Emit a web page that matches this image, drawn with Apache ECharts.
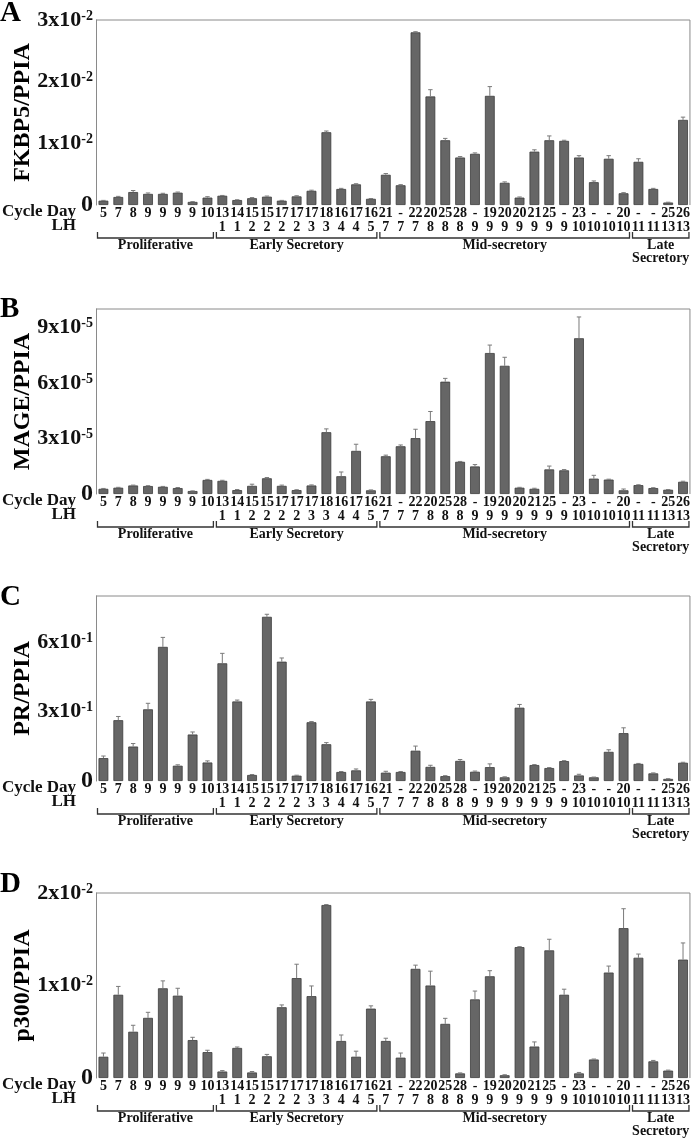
<!DOCTYPE html>
<html><head><meta charset="utf-8">
<script src="https://cdn.jsdelivr.net/npm/echarts@6/dist/echarts.min.js"></script>
<style>html,body{margin:0;padding:0;background:#fff}#c{width:693px;height:1139px}</style>
</head><body><div id="c"></div>
<script>
// ---- categories ----
const cycleDay = ['5','7','8','9','9','9','9','10','13','14','15','15','17','17','17','18','16','17','16','21','-','22','20','25','28','-','19','20','20','21','25','-','23','-','-','20','-','-','25','26'];
const lhDay = ['','','','','','','','','1','1','2','2','2','2','3','3','4','4','5','7','7','7','8','8','8','9','9','9','9','9','9','9','10','10','10','10','11','11','13','13'];
const groupNames = ['Proliferative','Early Secretory','Mid-secretory','Late\nSecretory'];
const groupSizes = [8, 11, 17, 4];

// ---- values (in units of the axis exponent) ----
// FKBP5/PPIA, x10^-2
const fkbp5 = [0.07,0.13,0.21,0.18,0.18,0.20,0.05,0.12,0.15,0.08,0.11,0.135,0.07,0.14,0.23,1.18,0.26,0.335,0.10,0.49,0.32,2.80,1.76,1.05,0.77,0.83,1.77,0.36,0.12,0.865,1.05,1.04,0.77,0.37,0.75,0.19,0.70,0.26,0.04,1.38];
const fkbp5Err = [0.005,0.01,0.025,0.015,0.01,0.01,0.005,0.015,0.005,0.005,0.01,0.01,0.005,0.01,0.01,0.02,0.01,0.01,0.005,0.02,0.01,0.01,0.11,0.03,0.015,0.015,0.15,0.015,0.01,0.03,0.07,0.01,0.03,0.02,0.05,0.01,0.05,0.01,0.005,0.045];
// MAGE/PPIA, x10^-5
const mage = [0.28,0.34,0.46,0.43,0.39,0.32,0.16,0.76,0.71,0.21,0.44,0.85,0.44,0.21,0.46,3.34,0.96,2.33,0.20,2.04,2.58,3.02,3.94,6.07,1.74,1.49,7.62,6.93,0.34,0.28,1.33,1.28,8.42,0.83,0.78,0.20,0.48,0.32,0.23,0.66];
const mageErr = [0.02,0.02,0.02,0.02,0.02,0.03,0.01,0.03,0.03,0.03,0.09,0.04,0.04,0.02,0.03,0.18,0.23,0.36,0.02,0.06,0.07,0.48,0.52,0.18,0.02,0.10,0.43,0.46,0.02,0.03,0.18,0.04,1.15,0.18,0.02,0.07,0.02,0.02,0.01,0.03];
// PR/PPIA, x10^-1
const pr = [0.99,2.63,1.49,3.10,5.80,0.66,2.01,0.80,5.09,3.44,0.26,7.10,5.16,0.23,2.54,1.59,0.39,0.46,3.44,0.36,0.39,1.31,0.61,0.21,0.87,0.40,0.60,0.16,3.17,0.69,0.56,0.86,0.24,0.16,1.26,2.07,0.74,0.33,0.09,0.79];
const prErr = [0.09,0.16,0.13,0.26,0.41,0.04,0.11,0.07,0.43,0.06,0.02,0.11,0.16,0.02,0.03,0.07,0.02,0.06,0.09,0.06,0.02,0.20,0.07,0.02,0.06,0.03,0.14,0.02,0.14,0.02,0.02,0.02,0.05,0.01,0.09,0.23,0.02,0.02,0.01,0.02];
// p300/PPIA, x10^-2
const p300 = [0.23,0.90,0.50,0.65,0.97,0.89,0.41,0.28,0.07,0.325,0.06,0.235,0.765,1.08,0.885,1.87,0.40,0.23,0.75,0.40,0.22,1.18,1.00,0.585,0.05,0.85,1.10,0.03,1.415,0.34,1.38,0.90,0.05,0.20,1.14,1.62,1.30,0.18,0.08,1.28];
const p300Err = [0.04,0.09,0.07,0.06,0.08,0.08,0.03,0.02,0.01,0.01,0.01,0.02,0.025,0.15,0.11,0.005,0.065,0.06,0.03,0.03,0.05,0.04,0.155,0.06,0.005,0.09,0.06,0.005,0.005,0.05,0.12,0.06,0.01,0.005,0.07,0.21,0.04,0.01,0.005,0.18];

const panelLetters = ['A','B','C','D'];
const panelTitles = ['FKBP5/PPIA','MAGE/PPIA','PR/PPIA','p300/PPIA'];
const panelExps = ['-2','-5','-1','-2'];
const panelMax = [3, 10, 8, 2];
const panelInterval = [1, 3, 3, 1];
const panelValues = [fkbp5, mage, pr, p300];
const panelErrors = [fkbp5Err, mageErr, prErr, p300Err];

// ---- layout ----
const F = '"Liberation Serif","DejaVu Serif",serif';
const gridTops = [20, 309, 596, 893];
const gridH = 185;
const letterY = [14, 310, 598, 885];

const chart = echarts.init(document.getElementById('c'), null, {renderer:'canvas'});

const grids = [], xAxes = [], yAxes = [], series = [];
panelTitles.forEach((t, k) => {
  grids.push({left:96, right:1, top:gridTops[k], height:gridH, show:false});
  xAxes.push({
    type:'category', gridIndex:k, data: cycleDay.map((_, i) => String(i)),
    axisLine:{show:false}, axisTick:{show:false}, splitLine:{show:false},
    axisLabel:{
      interval:0, margin:1,
      formatter:(v) => { const i = Number(v); return '{c|' + cycleDay[i] + '}\n{c|' + lhDay[i] + '}'; },
      rich:{c:{fontFamily:F, fontWeight:'bold', fontSize:14, lineHeight:14.5, color:'#111'}}
    }
  });
  const exp = panelExps[k];
  yAxes.push({
    type:'value', gridIndex:k, min:0, max:panelMax[k], interval:panelInterval[k],
    axisLine:{show:true, lineStyle:{color:'#8a8a8a', width:1}},
    axisTick:{show:false}, splitLine:{show:false},
    axisLabel:{
      margin:3, showMaxLabel: panelMax[k] % panelInterval[k] === 0, showMinLabel:true,
      formatter:(v) => v === 0 ? '{z|0}' : '{m|' + v + 'x10}{s|' + exp + '}',
      rich:{
        z:{fontFamily:F, fontWeight:'bold', fontSize:24, lineHeight:24, color:'#111'},
        m:{fontFamily:F, fontWeight:'bold', fontSize:22, lineHeight:22, color:'#111'},
        s:{fontFamily:F, fontWeight:'bold', fontSize:14, lineHeight:12, verticalAlign:'top', color:'#111'}
      }
    }
  });
  series.push({
    type:'bar', xAxisIndex:k, yAxisIndex:k, data:panelValues[k], barWidth:'66%',
    itemStyle:{color:'#666666', borderColor:'#3c3c3c', borderWidth:0.8}, silent:true
  });
  series.push({
    type:'custom', xAxisIndex:k, yAxisIndex:k, silent:true, z:3,
    encode:{x:0, y:1},
    data: panelValues[k].map((v, i) => [i, v, panelErrors[k][i]]),
    renderItem:(params, api) => {
      const i = api.value(0), v = api.value(1), e = api.value(2);
      const p0 = api.coord([i, v]);
      const p1 = api.coord([i, v + e]);
      const hw = 2.2;
      return {type:'group', children:[
        {type:'line', shape:{x1:p0[0], y1:p0[1], x2:p0[0], y2:p1[1]}, style:{stroke:'#7a7a7a', lineWidth:1}},
        {type:'line', shape:{x1:p0[0]-hw, y1:p1[1], x2:p0[0]+hw, y2:p1[1]}, style:{stroke:'#7a7a7a', lineWidth:1}}
      ]};
    }
  });
});

chart.setOption({
  animation:false, backgroundColor:'#ffffff',
  grid:grids, xAxis:xAxes, yAxis:yAxes, series:series
});

// ---- annotations positioned from the axes ----
const graphics = [];
panelTitles.forEach((t, k) => {
  const n = cycleDay.length;
  const zy = chart.convertToPixel({gridIndex:k}, [0, 0])[1];
  const c0 = chart.convertToPixel({gridIndex:k}, [0, 0])[0];
  const c1 = chart.convertToPixel({gridIndex:k}, [1, 0])[0];
  const band = c1 - c0;
  const xl = c0 - band / 2;
  const xr = chart.convertToPixel({gridIndex:k}, [n - 1, 0])[0] + band / 2;
  const topY = chart.convertToPixel({gridIndex:k}, [0, panelMax[k]])[1];
  // top and right frame
  graphics.push({type:'polyline', shape:{points:[[xl, topY], [xr - 0.5, topY], [xr - 0.5, zy]]}, style:{stroke:'#8a8a8a', lineWidth:1, fill:null}});
  graphics.push({type:'text', x:0, y:letterY[k], style:{text:panelLetters[k], font:'bold 29px ' + F, fill:'#000', textAlign:'left', textVerticalAlign:'middle'}});
  graphics.push({type:'text', x:23, y:(topY + zy) / 2, rotation:Math.PI/2, style:{text:t, font:'bold 24px ' + F, fill:'#000', textAlign:'center', textVerticalAlign:'middle'}});
  graphics.push({type:'text', x:76, y:zy + 7, style:{text:'Cycle Day', font:'bold 17px ' + F, fill:'#111', textAlign:'right', textVerticalAlign:'middle'}});
  graphics.push({type:'text', x:76, y:zy + 21, style:{text:'LH', font:'bold 17px ' + F, fill:'#111', textAlign:'right', textVerticalAlign:'middle'}});
  let start = 0;
  groupSizes.forEach((cnt, g) => {
    const end = start + cnt - 1;
    const xs = chart.convertToPixel({gridIndex:k}, [start, 0])[0] - band / 2 + 1.5;
    const xe = chart.convertToPixel({gridIndex:k}, [end, 0])[0] + band / 2 - 1.5;
    const by = zy + 33;
    graphics.push({type:'polyline', shape:{points:[[xs, by - 6], [xs, by], [xe, by], [xe, by - 6]]}, style:{stroke:'#333', lineWidth:1.3, fill:null}});
    graphics.push({type:'text', x:(xs + xe) / 2, y:zy + 34, style:{text:groupNames[g], font:'bold 14px ' + F, fill:'#111', textAlign:'center', textVerticalAlign:'top', lineHeight:13}});
    start = end + 1;
  });
});
chart.setOption({graphic:graphics});
</script>
</body></html>
